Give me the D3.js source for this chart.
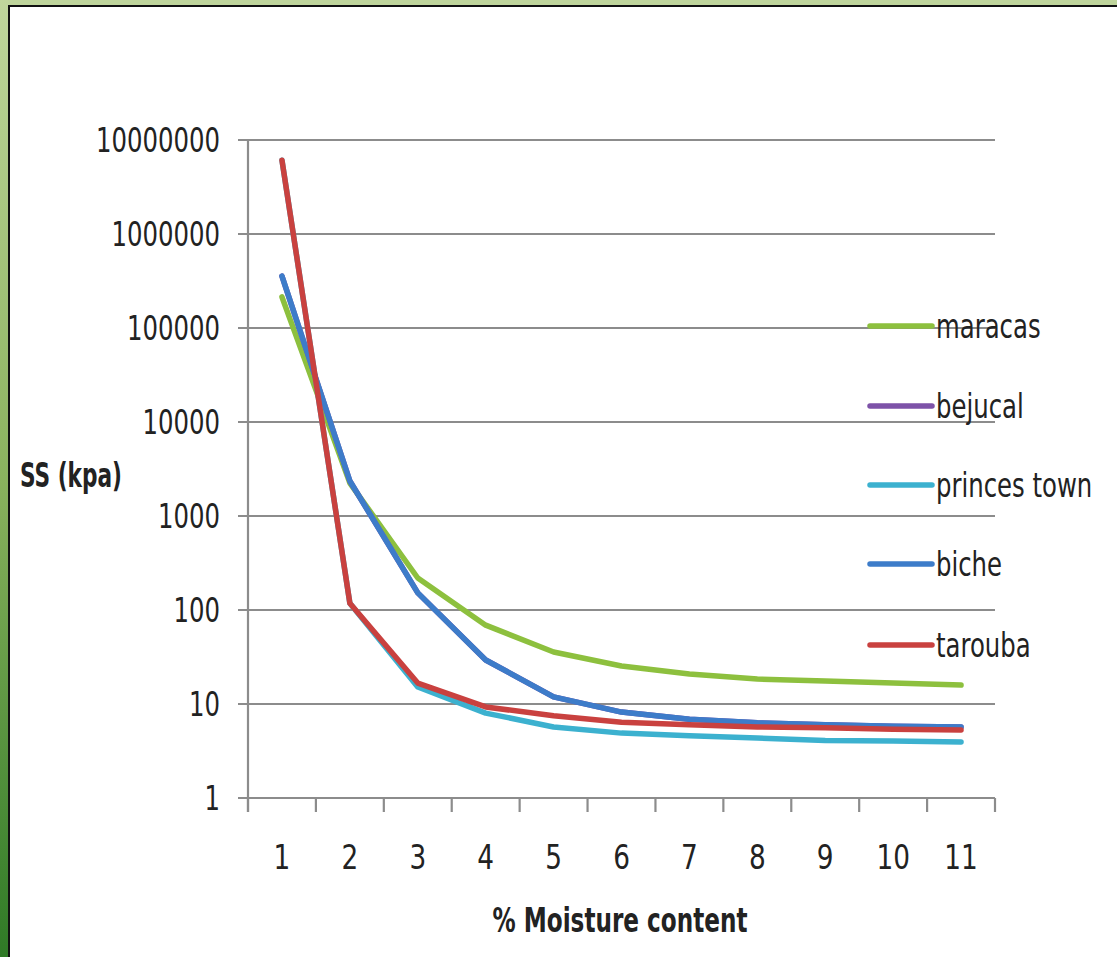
<!DOCTYPE html>
<html><head><meta charset="utf-8">
<script src="https://cdn.jsdelivr.net/npm/d3@7"></script>
<style>
html,body{margin:0;padding:0;background:#fff;}
svg{display:block;}
text{font-family:"Liberation Sans Narrow","DejaVu Sans Condensed","Liberation Sans",sans-serif;fill:#222;}
</style></head>
<body>
<svg id="c" width="1117" height="957"></svg>
<script>
const categories = [1,2,3,4,5,6,7,8,9,10,11];
const maracas      = [214000, 2240, 219, 69, 35.7, 25.4, 20.9, 18.4, 17.6, 16.7, 15.9];
const bejucal      = [357000, 2357, 152, 29.4, 11.9, 8.2, 6.9, 6.3, 6.0, 5.8, 5.7];
const princesTown  = [6100000, 118, 15.2, 8.0, 5.7, 4.9, 4.6, 4.35, 4.1, 4.05, 3.94];
const biche        = [357000, 2357, 152, 29.4, 11.9, 8.2, 6.9, 6.3, 6.0, 5.8, 5.7];
const tarouba      = [6100000, 118, 16.7, 9.3, 7.5, 6.4, 6.0, 5.7, 5.6, 5.4, 5.3];
const seriesNames  = ["maracas","bejucal","princes town","biche","tarouba"];
const seriesValues = [maracas, bejucal, princesTown, biche, tarouba];
const seriesColors = ["#8dc03e","#7d52a8","#3cb1cf","#3d7cc9","#c9413f"];
const yTicks = [1,10,100,1000,10000,100000,1000000,10000000];
const yTickLabels = ["1","10","100","1000","10000","100000","1000000","10000000"];
const yTitle = "SS (kpa)";
const xTitle = "% Moisture content";

const svg = d3.select("#c");
// detect whether a narrow font is present
const probe = svg.append("text").attr("font-size",33).text("10000000");
const pw = probe.node().getComputedTextLength();
probe.remove();
const kY = 124 / pw;   // horizontal compression to mimic condensed face

// frame
const grad = svg.append("defs").append("linearGradient").attr("id","lg").attr("x1",0).attr("y1",0).attr("x2",0).attr("y2",1);
grad.append("stop").attr("offset","0%").attr("stop-color","#c0d69c");
grad.append("stop").attr("offset","50%").attr("stop-color","#8ab25e");
grad.append("stop").attr("offset","100%").attr("stop-color","#2f7a26");
svg.append("rect").attr("x",0).attr("y",0).attr("width",1117).attr("height",6).attr("fill","#bfd59c");
svg.append("rect").attr("x",0).attr("y",0).attr("width",8).attr("height",957).attr("fill","url(#lg)");
svg.append("rect").attr("x",8).attr("y",5).attr("width",1109).attr("height",2).attr("fill","#111");
svg.append("rect").attr("x",8).attr("y",5).attr("width",2).attr("height",952).attr("fill","#111");

const x0 = 248, x1 = 995, yTop = 140, yBot = 798;
const x = d3.scaleBand().domain(categories).range([x0, x1]);
const y = d3.scaleLog().domain([1, 10000000]).range([yBot, yTop]);

// y axis labels
const yAxis = d3.axisLeft(y).tickValues(yTicks).tickFormat(d=>yTickLabels[yTicks.indexOf(d)]).tickSize(0).tickPadding(0);
const ga = svg.append("g").attr("transform",`translate(${x0},0)`).call(yAxis);
ga.select(".domain").remove();
ga.selectAll(".tick line").remove();
ga.selectAll(".tick text").attr("x",0).attr("font-size",33).attr("fill","#222").attr("dy","0.36em")
  .attr("transform",`translate(-28,0) scale(${kY},1)`);
// gridlines
svg.append("g").selectAll("line").data(yTicks).join("line")
  .attr("x1",x0-10).attr("x2",x1).attr("y1",d=>y(d)).attr("y2",d=>y(d))
  .attr("stroke","#8c8c8c").attr("stroke-width",2.2);
svg.append("line").attr("x1",x0).attr("x2",x0).attr("y1",yTop).attr("y2",yBot+14).attr("stroke","#8c8c8c").attr("stroke-width",2.2);

// x axis
const xAxis = d3.axisBottom(x).tickSize(0).tickPadding(0);
const gx = svg.append("g").attr("transform",`translate(0,${yBot})`).call(xAxis);
gx.select(".domain").remove();
gx.selectAll(".tick text").attr("y",0).attr("font-size",33).attr("fill","#222").attr("dy","0.36em")
  .attr("transform",`translate(0,59) scale(${Math.min(1,kY*1.08)},1)`);
const edges = categories.map(c=>x(c)).concat([x1]);
svg.append("g").selectAll("line").data(edges).join("line")
  .attr("x1",d=>d).attr("x2",d=>d).attr("y1",yBot).attr("y2",yBot+14)
  .attr("stroke","#8c8c8c").attr("stroke-width",2.2);

// lines
const line = d3.line().x((d,i)=>x(categories[i])+x.bandwidth()/2).y(d=>y(d));
svg.append("g").selectAll("path").data(seriesValues).join("path")
  .attr("d",d=>line(d)).attr("fill","none")
  .attr("stroke",(d,i)=>seriesColors[i]).attr("stroke-width",5.5)
  .attr("stroke-linejoin","round").attr("stroke-linecap","round");

// legend
const legY = [326,406,485,564,645];
const lg = svg.append("g").selectAll("g").data(seriesNames).join("g")
  .attr("transform",(d,i)=>`translate(870,${legY[i]})`);
lg.append("line").attr("x1",0).attr("x2",62).attr("y1",0).attr("y2",0)
  .attr("stroke",(d,i)=>seriesColors[i]).attr("stroke-width",5.5).attr("stroke-linecap","round");
lg.append("text").attr("font-size",33).attr("dy","0.36em")
  .attr("transform",`translate(66,0) scale(${kY},1)`).text(d=>d);

// titles
const t1 = svg.append("text").attr("font-size",33).attr("font-weight","bold").text(yTitle);
const w1 = t1.node().getComputedTextLength();
t1.attr("transform",`translate(20,487) scale(${102/w1},1)`);
const t2 = svg.append("text").attr("font-size",33).attr("font-weight","bold").attr("text-anchor","middle").text(xTitle);
const w2 = t2.node().getComputedTextLength();
t2.attr("transform",`translate(620,932) scale(${255/w2},1)`);
</script>
</body></html>
